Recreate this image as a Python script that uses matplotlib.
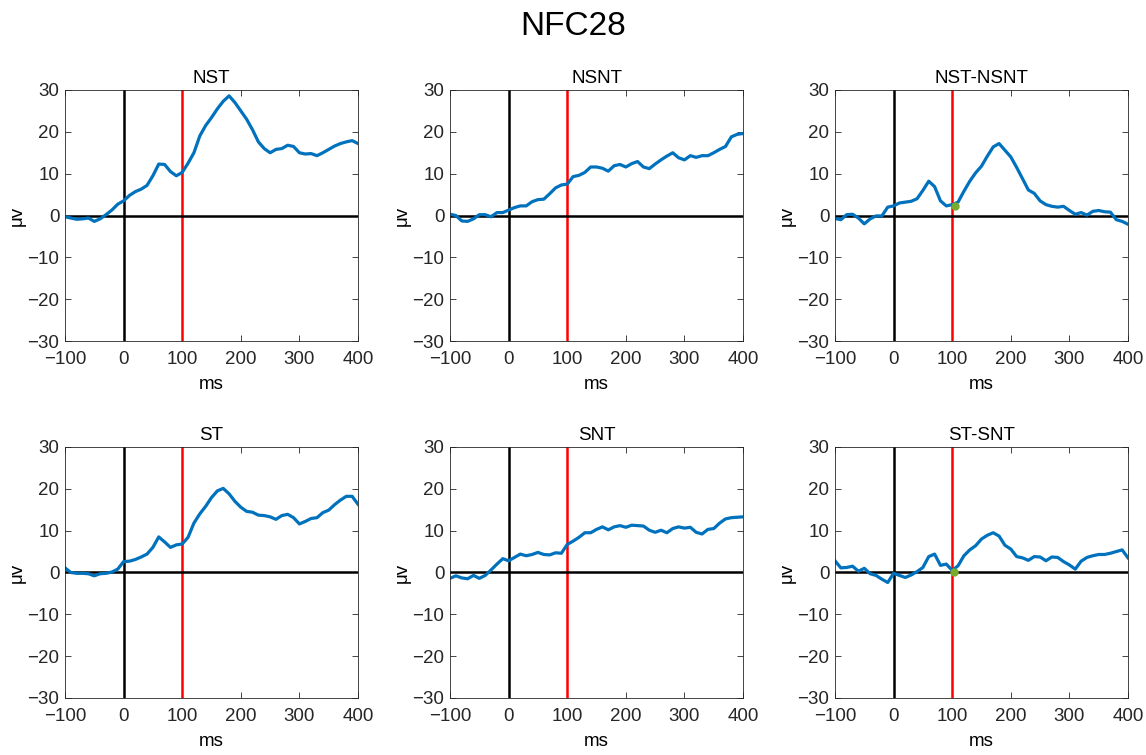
import numpy as np
import matplotlib
matplotlib.use("Agg")
import matplotlib.pyplot as plt

plt.rcParams['font.family'] = ['Liberation Sans', 'DejaVu Sans']

# time axis (ms), one sample every 10 ms
t = np.arange(-100, 401, 10)

nst = [-0.3, -0.6, -0.9, -0.8, -0.6, -1.4, -0.8, 0.2, 1.3, 2.7,
       3.5, 4.8, 5.7, 6.3, 7.2, 9.5, 12.3, 12.2, 10.5, 9.5,
       10.3, 12.5, 15.0, 19.0, 21.5, 23.4, 25.5, 27.3, 28.6, 27.0,
       25.0, 23.0, 20.5, 17.6, 16.0, 15.0, 15.8, 16.0, 16.8, 16.5,
       15.0, 14.7, 14.8, 14.3, 15.0, 15.8, 16.6, 17.2, 17.6, 17.9,
       17.2]
nsnt = [0.3, 0.0, -1.3, -1.4, -0.8, 0.2, 0.2, -0.3, 0.7, 0.7,
        1.3, 1.9, 2.3, 2.3, 3.3, 3.8, 3.9, 5.2, 6.6, 7.3,
        7.5, 9.3, 9.6, 10.3, 11.6, 11.6, 11.3, 10.6, 11.9, 12.2,
        11.6, 12.4, 12.9, 11.6, 11.2, 12.3, 13.3, 14.2, 15.0, 13.8,
        13.3, 14.3, 13.9, 14.3, 14.3, 15.0, 15.8, 16.5, 18.8, 19.4,
        19.6]
nst_nsnt = [-0.7, -1.0, 0.2, 0.3, -0.6, -2.0, -0.8, -0.1, -0.1, 2.0,
            2.3, 3.0, 3.2, 3.4, 4.0, 6.0, 8.2, 6.9, 3.5, 2.3,
            2.6, 3.2, 5.8, 8.2, 10.2, 11.8, 14.2, 16.4, 17.2, 15.6,
            14.0, 11.5, 8.8, 6.1, 5.3, 3.5, 2.6, 2.2, 2.0, 2.2,
            1.2, 0.3, 0.7, 0.1, 1.0, 1.2, 0.9, 0.8, -1.0, -1.4,
            -2.1]
st = [1.1, 0.0, -0.2, -0.2, -0.3, -0.8, -0.3, -0.2, 0.1, 0.8,
      2.6, 2.7, 3.1, 3.7, 4.4, 6.0, 8.5, 7.3, 6.0, 6.6,
      6.8, 8.4, 11.8, 14.0, 15.8, 17.9, 19.5, 20.1, 18.8, 17.0,
      15.6, 14.6, 14.4, 13.7, 13.6, 13.3, 12.7, 13.6, 13.9, 13.1,
      11.6, 12.2, 12.9, 13.1, 14.3, 14.9, 16.2, 17.3, 18.2, 18.2,
      16.3]
snt = [-1.4, -0.8, -1.3, -1.5, -0.7, -1.4, -0.7, 0.6, 2.0, 3.3,
       2.8, 3.6, 4.4, 4.0, 4.3, 4.8, 4.3, 4.2, 4.7, 4.6,
       6.7, 7.5, 8.4, 9.5, 9.5, 10.3, 10.9, 10.2, 10.9, 11.2,
       10.8, 11.3, 11.2, 11.1, 10.1, 9.6, 10.1, 9.5, 10.5, 10.9,
       10.6, 10.8, 9.6, 9.2, 10.3, 10.5, 11.8, 12.8, 13.1, 13.2,
       13.3]
st_snt = [2.8, 1.1, 1.2, 1.5, 0.3, 1.0, -0.3, -0.7, -1.6, -2.4,
          -0.2, -0.7, -1.2, -0.6, 0.2, 1.2, 3.8, 4.4, 1.7, 2.0,
          0.5, 1.6, 4.0, 5.4, 6.4, 8.0, 8.9, 9.5, 8.7, 6.5,
          5.6, 3.8, 3.5, 2.9, 3.8, 3.7, 2.8, 3.7, 3.6, 2.6,
          1.8, 0.8, 2.7, 3.6, 4.0, 4.3, 4.3, 4.6, 5.0, 5.4,
          3.5]

titles = ["NST", "NSNT", "NST-NSNT", "ST", "SNT", "ST-SNT"]
series = [nst, nsnt, nst_nsnt, st, snt, st_snt]
# green marker on the difference waves
marks = {2: (105, 2.3), 5: (103, 0.0)}

blue = (0, 0.447, 0.741)
axcol = (0.15, 0.15, 0.15)

fig = plt.figure(figsize=(11.46, 7.55), dpi=100)
lefts = [0.0567, 0.3927, 0.7286]
bottoms = [0.5483, 0.0755]

for i, (name, y) in enumerate(zip(titles, series)):
    ax = fig.add_axes([lefts[i % 3], bottoms[i // 3], 0.2557, 0.3325])
    ax.axvline(0, color='k', lw=1.8)
    ax.axvline(100, color='r', lw=1.8)
    ax.axhline(0, color='k', lw=1.8)
    ax.plot(t, y, color=blue, lw=2.3)
    if i in marks:
        ax.plot(*marks[i], 'o', color=(0.47, 0.67, 0.19), ms=5)
    ax.set_xlim(-100, 400)
    ax.set_ylim(-30, 30)
    ax.set_xticks(range(-100, 401, 100))
    ax.set_yticks(range(-30, 31, 10))
    ax.set_title(name, fontsize=13.5, pad=5)
    ax.set_xlabel('ms', fontsize=13.5, labelpad=6)
    ax.set_ylabel('μv', fontsize=13.5, labelpad=1)
    ax.tick_params(direction='in', top=True, right=True, labelsize=13.5,
                   colors=axcol, length=4, width=0.6)
    ax.tick_params(axis='x', pad=7)
    ax.tick_params(axis='y', pad=4)
    for s in ax.spines.values():
        s.set_color(axcol)
        s.set_linewidth(0.6)

fig.suptitle('NFC28', fontsize=24, y=0.985)
fig.savefig('out.png', dpi=100)
